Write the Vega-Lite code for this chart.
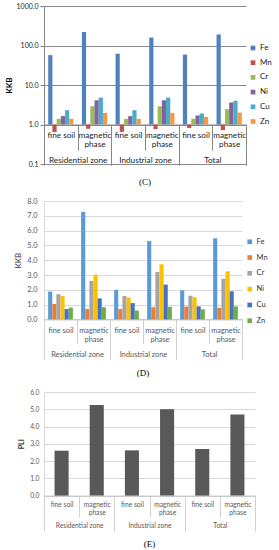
{
  "$schema": "https://vega.github.io/schema/vega-lite/v6.json",
  "padding": {"left": 5, "top": 2, "right": 0, "bottom": 0},
  "spacing": 10,
  "config": {
    "view": {"stroke": null},
    "font": "Lato",
    "title": {"font": "Liberation Serif", "fontSize": 9, "fontWeight": "normal", "color": "#000000"}
  },
  "resolve": {"scale": {"color": "independent"}, "legend": {"color": "independent"}},
  "datasets": {
    "groups": [
      {"g": "Residential zone|fine soil"}, {"g": "Residential zone|magnetic phase"},
      {"g": "Industrial zone|fine soil"}, {"g": "Industrial zone|magnetic phase"},
      {"g": "Total|fine soil"}, {"g": "Total|magnetic phase"}
    ],
    "zones": [{"z": "Residential zone"}, {"z": "Industrial zone"}, {"z": "Total"}]
  },
  "vconcat": [
    {
      "width": 202,
      "height": 158,
      "title": {"text": "(C)", "orient": "bottom", "offset": 11},
      "layer": [
        {
          "data": {"values": [
            {"k": "Rf Fe", "e": "Fe", "v": 57}, {"k": "Rf Mn", "e": "Mn", "v": 0.65}, {"k": "Rf Cr", "e": "Cr", "v": 1.39},
            {"k": "Rf Ni", "e": "Ni", "v": 1.63}, {"k": "Rf Cu", "e": "Cu", "v": 2.3}, {"k": "Rf Zn", "e": "Zn", "v": 1.39},
            {"k": "Rm Fe", "e": "Fe", "v": 220}, {"k": "Rm Mn", "e": "Mn", "v": 0.78}, {"k": "Rm Cr", "e": "Cr", "v": 2.9},
            {"k": "Rm Ni", "e": "Ni", "v": 4.1}, {"k": "Rm Cu", "e": "Cu", "v": 4.8}, {"k": "Rm Zn", "e": "Zn", "v": 1.97},
            {"k": "If Fe", "e": "Fe", "v": 62}, {"k": "If Mn", "e": "Mn", "v": 0.65}, {"k": "If Cr", "e": "Cr", "v": 1.39},
            {"k": "If Ni", "e": "Ni", "v": 1.63}, {"k": "If Cu", "e": "Cu", "v": 2.3}, {"k": "If Zn", "e": "Zn", "v": 1.39},
            {"k": "Im Fe", "e": "Fe", "v": 159}, {"k": "Im Mn", "e": "Mn", "v": 0.77}, {"k": "Im Cr", "e": "Cr", "v": 2.9},
            {"k": "Im Ni", "e": "Ni", "v": 4.1}, {"k": "Im Cu", "e": "Cu", "v": 4.8}, {"k": "Im Zn", "e": "Zn", "v": 1.97},
            {"k": "Tf Fe", "e": "Fe", "v": 59}, {"k": "Tf Mn", "e": "Mn", "v": 0.82}, {"k": "Tf Cr", "e": "Cr", "v": 1.4},
            {"k": "Tf Ni", "e": "Ni", "v": 1.69}, {"k": "Tf Cu", "e": "Cu", "v": 1.9}, {"k": "Tf Zn", "e": "Zn", "v": 1.56},
            {"k": "Tm Fe", "e": "Fe", "v": 190}, {"k": "Tm Mn", "e": "Mn", "v": 0.72}, {"k": "Tm Cr", "e": "Cr", "v": 2.44},
            {"k": "Tm Ni", "e": "Ni", "v": 3.6}, {"k": "Tm Cu", "e": "Cu", "v": 3.96}, {"k": "Tm Zn", "e": "Zn", "v": 2.01}
          ]},
          "mark": {"type": "bar"},
          "encoding": {
            "x": {
              "field": "k", "type": "nominal", "axis": null,
              "scale": {"paddingInner": 0, "paddingOuter": 0, "domain": [
                "Rf a", "Rf Fe", "Rf Mn", "Rf Cr", "Rf Ni", "Rf Cu", "Rf Zn", "Rf b",
                "Rm a", "Rm Fe", "Rm Mn", "Rm Cr", "Rm Ni", "Rm Cu", "Rm Zn", "Rm b",
                "If a", "If Fe", "If Mn", "If Cr", "If Ni", "If Cu", "If Zn", "If b",
                "Im a", "Im Fe", "Im Mn", "Im Cr", "Im Ni", "Im Cu", "Im Zn", "Im b",
                "Tf a", "Tf Fe", "Tf Mn", "Tf Cr", "Tf Ni", "Tf Cu", "Tf Zn", "Tf b",
                "Tm a", "Tm Fe", "Tm Mn", "Tm Cr", "Tm Ni", "Tm Cu", "Tm Zn", "Tm b"
              ]}
            },
            "y": {
              "field": "v", "type": "quantitative",
              "scale": {"type": "log", "domain": [0.1, 1000], "nice": false},
              "axis": {
                "title": "KKB", "titleFontSize": 8, "titleFontWeight": "bold", "titleColor": "#000000", "titlePadding": 3,
                "values": [0.1, 1, 10, 100, 1000], "format": ".1f", "labelFontSize": 7, "labelColor": "#222222",
                "labelPadding": 2, "tickSize": 4, "tickColor": "#868686", "domainColor": "#868686",
                "grid": true, "gridColor": "#8a8a8a", "labelOverlap": false
              }
            },
            "y2": {"datum": 1},
            "color": {
              "field": "e", "type": "nominal",
              "scale": {"domain": ["Fe", "Mn", "Cr", "Ni", "Cu", "Zn"], "range": ["#4F81BD", "#C0504D", "#9BBB59", "#8064A2", "#4BACC6", "#F79646"]},
              "legend": {
                "title": null, "orient": "none", "legendX": 205, "legendY": 38, "symbolType": "square",
                "symbolSize": 22, "symbolStrokeWidth": 0, "labelFontSize": 8, "labelColor": "#222222",
                "rowPadding": 6.7, "labelOffset": 3, "padding": 0
              }
            }
          }
        },
        {
          "data": {"name": "groups"},
          "mark": {"type": "point", "opacity": 0},
          "encoding": {
            "x": {
              "field": "g", "type": "nominal", "sort": null,
              "scale": {"paddingInner": 0, "paddingOuter": 0},
              "axis": {
                "orient": "bottom", "offset": -39.5, "title": null, "labelAngle": 0,
                "labelExpr": "indexof('' + datum.value, 'magnetic') >= 0 ? ['magnetic', 'phase'] : (datum.label == '' ? '' : 'fine soil')",
                "labelFontSize": 8.2, "labelLineHeight": 9, "labelColor": "#222222", "labelBaseline": "top",
                "labelPadding": -19, "tickBand": "extent", "tickSize": 25.7, "tickColor": "#868686",
                "domainColor": "#868686", "grid": false
              }
            },
            "y": {
              "datum": 1, "type": "quantitative",
              "axis": {
                "title": "KKB", "titleFontSize": 8, "titleFontWeight": "bold", "titleColor": "#000000", "titlePadding": 3,
                "values": [0.1, 1, 10, 100, 1000], "format": ".1f", "labelFontSize": 7, "labelColor": "#222222",
                "labelPadding": 2, "tickSize": 4, "tickColor": "#868686", "domainColor": "#868686",
                "grid": true, "gridColor": "#8a8a8a", "labelOverlap": false
              }
            }
          }
        },
        {
          "data": {"name": "zones"},
          "mark": {"type": "point", "opacity": 0},
          "encoding": {
            "x": {
              "field": "z", "type": "nominal", "sort": null,
              "scale": {"paddingInner": 0, "paddingOuter": 0},
              "axis": {
                "orient": "bottom", "offset": -39.5, "title": null, "labelAngle": 0, "domain": false,
                "labelFontSize": 8.2, "labelColor": "#222222", "labelBaseline": "top", "labelPadding": -8.5,
                "tickBand": "extent", "tickSize": 40.7, "tickColor": "#868686", "grid": false
              }
            },
            "y": {
              "datum": 1, "type": "quantitative",
              "axis": {
                "title": "KKB", "titleFontSize": 8, "titleFontWeight": "bold", "titleColor": "#000000", "titlePadding": 3,
                "values": [0.1, 1, 10, 100, 1000], "format": ".1f", "labelFontSize": 7, "labelColor": "#222222",
                "labelPadding": 2, "tickSize": 4, "tickColor": "#868686", "domainColor": "#868686",
                "grid": true, "gridColor": "#8a8a8a", "labelOverlap": false
              }
            }
          }
        }
      ],
      "resolve": {"scale": {"x": "independent"}, "axis": {"x": "independent"}}
    },
    {
      "width": 198,
      "height": 118.4,
      "title": {"text": "(D)", "orient": "bottom", "offset": 9.5},
      "layer": [
        {
          "data": {"values": [
            {"k": "Rf Fe", "e": "Fe", "v": 1.88}, {"k": "Rf Mn", "e": "Mn", "v": 1.05}, {"k": "Rf Cr", "e": "Cr", "v": 1.7},
            {"k": "Rf Ni", "e": "Ni", "v": 1.58}, {"k": "Rf Cu", "e": "Cu", "v": 0.7}, {"k": "Rf Zn", "e": "Zn", "v": 0.8},
            {"k": "Rm Fe", "e": "Fe", "v": 7.27}, {"k": "Rm Mn", "e": "Mn", "v": 0.7}, {"k": "Rm Cr", "e": "Cr", "v": 2.6},
            {"k": "Rm Ni", "e": "Ni", "v": 3.02}, {"k": "Rm Cu", "e": "Cu", "v": 1.42}, {"k": "Rm Zn", "e": "Zn", "v": 0.82},
            {"k": "If Fe", "e": "Fe", "v": 2.0}, {"k": "If Mn", "e": "Mn", "v": 0.7}, {"k": "If Cr", "e": "Cr", "v": 1.58},
            {"k": "If Ni", "e": "Ni", "v": 1.48}, {"k": "If Cu", "e": "Cu", "v": 1.1}, {"k": "If Zn", "e": "Zn", "v": 0.6},
            {"k": "Im Fe", "e": "Fe", "v": 5.29}, {"k": "Im Mn", "e": "Mn", "v": 0.82}, {"k": "Im Cr", "e": "Cr", "v": 3.2},
            {"k": "Im Ni", "e": "Ni", "v": 3.72}, {"k": "Im Cu", "e": "Cu", "v": 2.35}, {"k": "Im Zn", "e": "Zn", "v": 0.85},
            {"k": "Tf Fe", "e": "Fe", "v": 1.97}, {"k": "Tf Mn", "e": "Mn", "v": 0.87}, {"k": "Tf Cr", "e": "Cr", "v": 1.6},
            {"k": "Tf Ni", "e": "Ni", "v": 1.5}, {"k": "Tf Cu", "e": "Cu", "v": 0.88}, {"k": "Tf Zn", "e": "Zn", "v": 0.68},
            {"k": "Tm Fe", "e": "Fe", "v": 5.48}, {"k": "Tm Mn", "e": "Mn", "v": 0.78}, {"k": "Tm Cr", "e": "Cr", "v": 2.75},
            {"k": "Tm Ni", "e": "Ni", "v": 3.25}, {"k": "Tm Cu", "e": "Cu", "v": 1.9}, {"k": "Tm Zn", "e": "Zn", "v": 0.88}
          ]},
          "mark": {"type": "bar"},
          "encoding": {
            "x": {
              "field": "k", "type": "nominal", "axis": null,
              "scale": {"paddingInner": 0, "paddingOuter": 0, "domain": [
                "Rf a", "Rf Fe", "Rf Mn", "Rf Cr", "Rf Ni", "Rf Cu", "Rf Zn", "Rf b",
                "Rm a", "Rm Fe", "Rm Mn", "Rm Cr", "Rm Ni", "Rm Cu", "Rm Zn", "Rm b",
                "If a", "If Fe", "If Mn", "If Cr", "If Ni", "If Cu", "If Zn", "If b",
                "Im a", "Im Fe", "Im Mn", "Im Cr", "Im Ni", "Im Cu", "Im Zn", "Im b",
                "Tf a", "Tf Fe", "Tf Mn", "Tf Cr", "Tf Ni", "Tf Cu", "Tf Zn", "Tf b",
                "Tm a", "Tm Fe", "Tm Mn", "Tm Cr", "Tm Ni", "Tm Cu", "Tm Zn", "Tm b"
              ]}
            },
            "y": {
              "field": "v", "type": "quantitative",
              "scale": {"domain": [0, 8], "nice": false},
              "axis": {
                "title": "KKB", "titleFontSize": 8, "titleFontWeight": "normal", "titleColor": "#333333", "titlePadding": 4,
                "values": [0, 1, 2, 3, 4, 5, 6, 7, 8], "format": ".1f", "labelFontSize": 7.4, "labelColor": "#595959",
                "labelPadding": 7, "ticks": false, "tickSize": 0, "domainColor": "#D9D9D9", "labelOverlap": false,
                "grid": true, "gridColor": "#D9D9D9"
              }
            },
            "color": {
              "field": "e", "type": "nominal",
              "scale": {"domain": ["Fe", "Mn", "Cr", "Ni", "Cu", "Zn"], "range": ["#5B9BD5", "#ED7D31", "#A5A5A5", "#FFC000", "#4472C4", "#70AD47"]},
              "legend": {
                "title": null, "orient": "none", "legendX": 202, "legendY": 37, "symbolType": "square",
                "symbolSize": 22, "symbolStrokeWidth": 0, "labelFontSize": 7.5, "labelColor": "#333333",
                "rowPadding": 6.8, "labelOffset": 3, "padding": 0
              }
            }
          }
        },
        {
          "data": {"name": "groups"},
          "mark": {"type": "point", "opacity": 0},
          "encoding": {
            "x": {
              "field": "g", "type": "nominal", "sort": null,
              "scale": {"paddingInner": 0, "paddingOuter": 0},
              "axis": {
                "orient": "bottom", "title": null, "labelAngle": 0,
                "labelExpr": "indexof('' + datum.value, 'magnetic') >= 0 ? ['magnetic', 'phase'] : (datum.label == '' ? '' : 'fine soil')",
                "labelFontSize": 7.4, "labelLineHeight": 8.7, "labelColor": "#595959", "labelBaseline": "top",
                "labelPadding": -16.7, "tickBand": "extent", "tickSize": 24, "tickColor": "#D0D0D0",
                "domainColor": "#BFBFBF", "grid": false
              }
            },
            "y": {
              "datum": 0, "type": "quantitative",
              "axis": {
                "title": "KKB", "titleFontSize": 8, "titleFontWeight": "normal", "titleColor": "#333333", "titlePadding": 4,
                "values": [0, 1, 2, 3, 4, 5, 6, 7, 8], "format": ".1f", "labelFontSize": 7.4, "labelColor": "#595959",
                "labelPadding": 7, "ticks": false, "tickSize": 0, "domainColor": "#D9D9D9", "labelOverlap": false,
                "grid": true, "gridColor": "#D9D9D9"
              }
            }
          }
        },
        {
          "data": {"name": "zones"},
          "mark": {"type": "point", "opacity": 0},
          "encoding": {
            "x": {
              "field": "z", "type": "nominal", "sort": null,
              "scale": {"paddingInner": 0, "paddingOuter": 0},
              "axis": {
                "orient": "bottom", "title": null, "labelAngle": 0, "domain": false,
                "labelFontSize": 7.4, "labelColor": "#595959", "labelBaseline": "top", "labelPadding": -9,
                "tickBand": "extent", "tickSize": 40, "tickColor": "#D0D0D0", "grid": false
              }
            },
            "y": {
              "datum": 0, "type": "quantitative",
              "axis": {
                "title": "KKB", "titleFontSize": 8, "titleFontWeight": "normal", "titleColor": "#333333", "titlePadding": 4,
                "values": [0, 1, 2, 3, 4, 5, 6, 7, 8], "format": ".1f", "labelFontSize": 7.4, "labelColor": "#595959",
                "labelPadding": 7, "ticks": false, "tickSize": 0, "domainColor": "#D9D9D9", "labelOverlap": false,
                "grid": true, "gridColor": "#D9D9D9"
              }
            }
          }
        }
      ],
      "resolve": {"scale": {"x": "independent"}, "axis": {"x": "independent"}}
    },
    {
      "width": 211,
      "height": 103.6,
      "title": {"text": "(E)", "orient": "bottom", "offset": 8.5},
      "layer": [
        {
          "data": {"values": [
            {"g": "Residential zone|fine soil", "v": 2.6},
            {"g": "Residential zone|magnetic phase", "v": 5.25},
            {"g": "Industrial zone|fine soil", "v": 2.62},
            {"g": "Industrial zone|magnetic phase", "v": 5.0},
            {"g": "Total|fine soil", "v": 2.7},
            {"g": "Total|magnetic phase", "v": 4.7}
          ]},
          "mark": {"type": "bar", "width": {"band": 0.4}, "color": "#595959"},
          "encoding": {
            "x": {
              "field": "g", "type": "nominal", "sort": null,
              "scale": {"paddingInner": 0, "paddingOuter": 0},
              "axis": {
                "orient": "bottom", "title": null, "labelAngle": 0,
                "labelExpr": "indexof('' + datum.value, 'magnetic') >= 0 ? ['magnetic', 'phase'] : (datum.label == '' ? '' : 'fine soil')",
                "labelFontSize": 6.7, "labelLineHeight": 8.4, "labelColor": "#595959", "labelBaseline": "top",
                "labelPadding": -15.8, "tickBand": "extent", "tickSize": 21.4, "tickColor": "#D0D0D0",
                "domainColor": "#BFBFBF", "grid": false
              }
            },
            "y": {
              "field": "v", "type": "quantitative",
              "scale": {"domain": [0, 6], "nice": false},
              "axis": {
                "title": "PLI", "titleFontSize": 7, "titleFontWeight": "bold", "titleColor": "#333333", "titlePadding": 5,
                "values": [0, 1, 2, 3, 4, 5, 6], "format": ".1f", "labelFontSize": 6.7, "labelColor": "#595959",
                "labelPadding": 5, "ticks": false, "tickSize": 0, "domainColor": "#D9D9D9", "labelOverlap": false,
                "grid": true, "gridColor": "#D9D9D9"
              }
            }
          }
        },
        {
          "data": {"name": "zones"},
          "mark": {"type": "point", "opacity": 0},
          "encoding": {
            "x": {
              "field": "z", "type": "nominal", "sort": null,
              "scale": {"paddingInner": 0, "paddingOuter": 0},
              "axis": {
                "orient": "bottom", "title": null, "labelAngle": 0, "domain": false,
                "labelFontSize": 6.7, "labelColor": "#595959", "labelBaseline": "top", "labelPadding": -8.4,
                "tickBand": "extent", "tickSize": 35.4, "tickColor": "#D0D0D0", "grid": false
              }
            },
            "y": {
              "datum": 0, "type": "quantitative",
              "axis": {
                "title": "PLI", "titleFontSize": 7, "titleFontWeight": "bold", "titleColor": "#333333", "titlePadding": 5,
                "values": [0, 1, 2, 3, 4, 5, 6], "format": ".1f", "labelFontSize": 6.7, "labelColor": "#595959",
                "labelPadding": 5, "ticks": false, "tickSize": 0, "domainColor": "#D9D9D9", "labelOverlap": false,
                "grid": true, "gridColor": "#D9D9D9"
              }
            }
          }
        }
      ],
      "resolve": {"scale": {"x": "independent"}, "axis": {"x": "independent"}}
    }
  ]
}
